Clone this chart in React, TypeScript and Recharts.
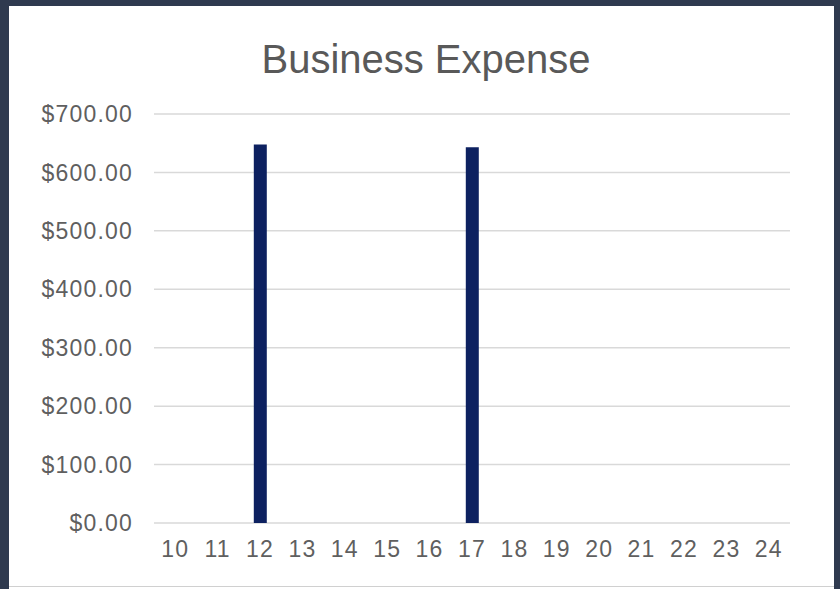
import { BarChart, Bar, XAxis, YAxis, CartesianGrid } from 'recharts'

// day of month along the x axis
const days = ['10', '11', '12', '13', '14', '15', '16', '17', '18', '19', '20', '21', '22', '23', '24']
// expense amount per day (only two days have spending)
const expenses = [0, 0, 648, 0, 0, 0, 0, 643, 0, 0, 0, 0, 0, 0, 0]
const yTicks = [0, 100, 200, 300, 400, 500, 600, 700]

const data = days.map((day, i) => ({ day, amount: expenses[i] }))

const tickStyle = {
  fill: '#5f5f5f',
  fontSize: 23,
  fontFamily: '"Liberation Sans", Arial, sans-serif',
  letterSpacing: 1.2,
}

export default function App() {
  return (
    <div
      style={{
        position: 'fixed',
        left: 0,
        top: 0,
        width: 840,
        height: 589,
        background: '#2f3a4f',
        overflow: 'hidden',
      }}
    >
      <div
        style={{
          position: 'absolute',
          left: 9,
          top: 6,
          width: 825,
          height: 583,
          background: '#fff',
        }}
      >
        {/* title */}
        <div
          style={{
            position: 'absolute',
            left: 0,
            top: 33,
            width: 834,
            textAlign: 'center',
            fontFamily: '"Liberation Sans", Arial, sans-serif',
            fontSize: 40,
            lineHeight: '40px',
            color: '#595959',
          }}
        >
          Business Expense
        </div>
        <div style={{ position: 'absolute', left: 0, top: 0 }}>
          <BarChart
            width={825}
            height={580}
            data={data}
            margin={{ top: 108, right: 44, bottom: 0, left: 0 }}
          >
            <CartesianGrid vertical={false} stroke="#d9d9d9" strokeWidth={1.5} />
            <XAxis
              dataKey="day"
              height={63}
              axisLine={false}
              tickLine={false}
              tickSize={0}
              tickMargin={18}
              interval={0}
              tick={tickStyle}
            />
            <YAxis
              width={145}
              domain={[0, 700]}
              ticks={yTicks}
              axisLine={false}
              tickLine={false}
              tickSize={0}
              tickMargin={21}
              tick={tickStyle}
              tickFormatter={(v: number) => `$${v.toFixed(2)}`}
            />
            <Bar dataKey="amount" fill="#0d2160" barSize={13} isAnimationActive={false} />
          </BarChart>
        </div>
        <div
          style={{
            position: 'absolute',
            left: 0,
            top: 580,
            width: 825,
            height: 1,
            background: '#d0d0d0',
          }}
        />
      </div>
    </div>
  )
}
